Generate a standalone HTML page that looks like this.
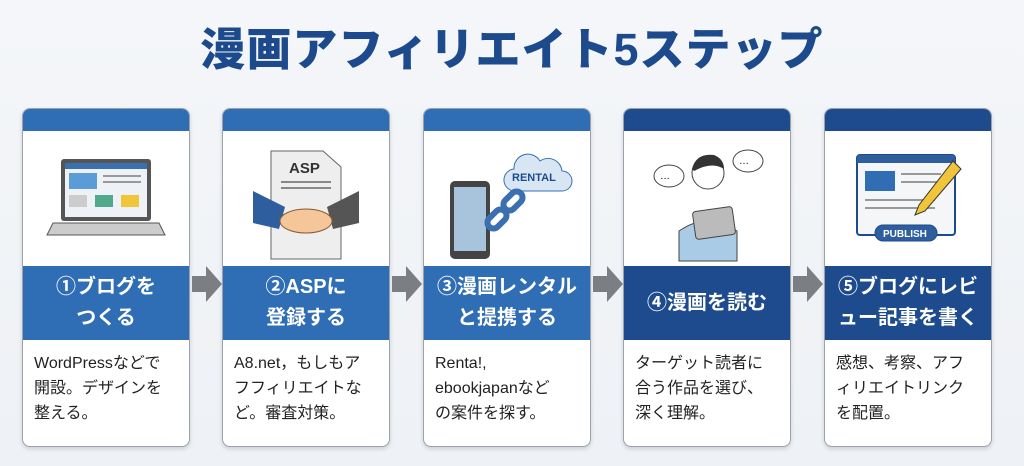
<!DOCTYPE html>
<html><head><meta charset="utf-8"><style>
body{margin:0;width:1024px;height:466px;overflow:hidden;background:linear-gradient(#f4f6f9,#eef1f5);font-family:"Liberation Sans","Noto Sans CJK JP",sans-serif;position:relative}
h1{position:absolute;top:22px;left:0;width:1024px;text-align:center;margin:0;font-size:45px;font-weight:900;color:#1c4a8c;letter-spacing:1px;line-height:56px}
.card{position:absolute;top:108px;width:166px;height:337px;border:1px solid #9aa3ad;border-radius:8px;background:#fff;overflow:hidden;box-shadow:0 2px 4px rgba(0,0,0,.15)}
.top{height:22px}
.ill{height:135px;position:relative}
.tt{height:74px;color:#fff;font-weight:bold;font-size:20px;display:flex;align-items:center;justify-content:center;text-align:center;line-height:31px}
.tx{padding:11px 0 0 11px;font-size:16px;line-height:25px;color:#222}
.b{background:#2f6db4}.n{background:#1d4b8d}
svg{position:absolute;left:0;top:0}
</style></head><body>
<h1>漫画アフィリエイト5ステップ</h1>

<div class="card" style="left:22px"><div class="top b"></div><div class="ill"><svg width="166" height="135">
<rect x="38" y="28" width="90" height="62" rx="3" fill="#555"/><rect x="42" y="32" width="82" height="54" fill="#eef2f6"/><rect x="42" y="32" width="82" height="6" fill="#3a6fb0"/>
<rect x="46" y="42" width="28" height="16" fill="#5b9bd8"/><rect x="80" y="44" width="38" height="2" fill="#999"/><rect x="80" y="50" width="38" height="2" fill="#999"/>
<rect x="46" y="64" width="18" height="12" fill="#ccc"/><rect x="72" y="64" width="18" height="12" fill="#52a88a"/><rect x="98" y="64" width="18" height="12" fill="#f0c53a"/>
<path d="M30 92 L136 92 L142 104 L24 104Z" fill="#ccc" stroke="#555"/></svg></div>
<div class="tt b">①ブログを<br>つくる</div><div class="tx">WordPressなどで<br>開設。デザインを<br>整える。</div></div>

<div class="card" style="left:222px"><div class="top b"></div><div class="ill"><svg width="166" height="135">
<path d="M48 20 H100 L118 36 V128 H48Z" fill="#eee" stroke="#666"/><text x="66" y="42" font-size="15" font-weight="bold" fill="#333" font-family="Liberation Sans">ASP</text>
<rect x="58" y="50" width="50" height="2" fill="#888"/><rect x="58" y="56" width="50" height="2" fill="#888"/>
<path d="M30 60 L62 76 L56 98 L30 92Z" fill="#2f5e9e"/><path d="M136 60 L104 76 L110 98 L136 92Z" fill="#555"/>
<ellipse cx="83" cy="90" rx="26" ry="12" fill="#f4c69a" stroke="#8a5a30"/></svg></div>
<div class="tt b">②ASPに<br>登録する</div><div class="tx">A8.net，もしもア<br>フフィリエイトな<br>ど。審査対策。</div></div>

<div class="card" style="left:423px"><div class="top b"></div><div class="ill"><svg width="166" height="135">
<rect x="26" y="50" width="40" height="78" rx="5" fill="#444"/><rect x="30" y="56" width="32" height="64" fill="#a8c4dc"/>
<path d="M90 38 a14 14 0 0 1 26 -8 a14 14 0 0 1 22 10 a10 10 0 0 1 0 20 H92 a11 11 0 0 1 -2 -22Z" fill="#d8e6f4" stroke="#3a6fb0"/>
<text x="88" y="50" font-size="11" font-weight="bold" fill="#1d4b8d" font-family="Liberation Sans">RENTAL</text>
<g fill="none" stroke="#3a6fb0" stroke-width="6"><rect x="62" y="82" width="22" height="12" rx="6" transform="rotate(-45 73 88)"/><rect x="78" y="64" width="22" height="12" rx="6" transform="rotate(-45 89 70)"/></g></svg></div>
<div class="tt b">③漫画レンタル<br>と提携する</div><div class="tx">Renta!,<br>ebookjapanなど<br>の案件を探す。</div></div>

<div class="card" style="left:623px"><div class="top n"></div><div class="ill"><svg width="166" height="135">
<path d="M55 130 V100 Q84 80 113 100 V130Z" fill="#a9cbe6" stroke="#444"/><circle cx="84" cy="42" r="16" fill="#fff" stroke="#444"/><path d="M68 38 Q72 22 90 24 Q100 28 100 38 Q88 30 70 40Z" fill="#333"/>
<ellipse cx="45" cy="45" rx="15" ry="11" fill="#fff" stroke="#444"/><text x="36" y="48" font-size="10">…</text>
<ellipse cx="124" cy="30" rx="15" ry="11" fill="#fff" stroke="#444"/><text x="115" y="33" font-size="10">…</text>
<rect x="70" y="78" width="40" height="28" rx="3" fill="#bbb" stroke="#444" transform="rotate(-8 90 92)"/></svg></div>
<div class="tt n">④漫画を読む</div><div class="tx">ターゲット読者に<br>合う作品を選び、<br>深く理解。</div></div>

<div class="card" style="left:824px"><div class="top n"></div><div class="ill"><svg width="166" height="135">
<rect x="32" y="24" width="98" height="80" rx="3" fill="#f4f6f8" stroke="#1d4b8d" stroke-width="2"/><rect x="32" y="24" width="98" height="8" fill="#2f5e9e"/>
<rect x="40" y="40" width="30" height="20" fill="#2f6db4"/><rect x="76" y="42" width="40" height="2" fill="#999"/><rect x="76" y="50" width="40" height="2" fill="#999"/><rect x="40" y="68" width="70" height="2" fill="#999"/><rect x="40" y="76" width="70" height="2" fill="#999"/>
<path d="M128 30 L136 38 L100 80 L90 84 L94 74Z" fill="#f0c53a" stroke="#333"/>
<rect x="50" y="94" width="62" height="16" rx="8" fill="#2f5e9e" stroke="#1d4b8d"/><text x="58" y="106" font-size="10" font-weight="bold" fill="#fff" font-family="Liberation Sans">PUBLISH</text></svg></div>
<div class="tt n">⑤ブログにレビ<br>ュー記事を書く</div><div class="tx">感想、考察、アフ<br>ィリエイトリンク<br>を配置。</div></div>

<svg width="1024" height="466" style="pointer-events:none">
<g fill="#7b7e82"><path d="M192 276 H206 V266 L222 284 L206 302 V292 H192Z"/><path d="M392 276 H406 V266 L422 284 L406 302 V292 H392Z"/><path d="M593 276 H607 V266 L623 284 L607 302 V292 H593Z"/><path d="M793 276 H807 V266 L823 284 L807 302 V292 H793Z"/></g></svg>
</body></html>
